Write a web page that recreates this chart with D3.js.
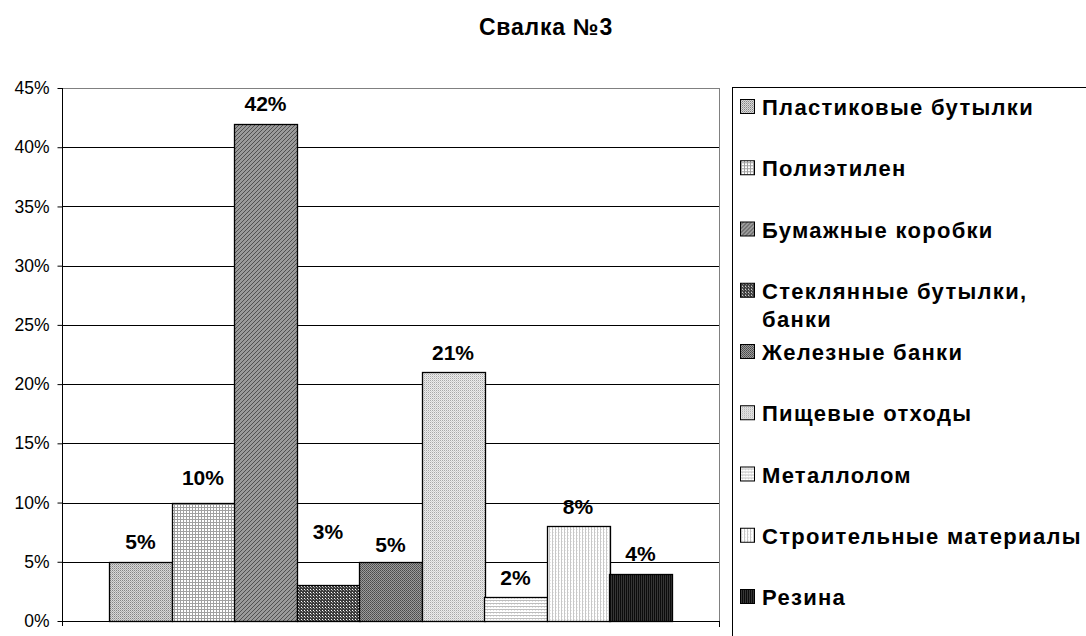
<!DOCTYPE html>
<html>
<head>
<meta charset="utf-8">
<script src="https://cdn.jsdelivr.net/npm/d3@7"></script>
<style>
  html, body { margin: 0; padding: 0; background: #fff; }
  svg { display: block; font-family: "Liberation Sans", Arial, sans-serif; }
</style>
</head>
<body>
<div id="chart"></div>
<script>
// data
const title = 'Свалка №3';
const categories = [
    'Пластиковые бутылки',
    'Полиэтилен',
    'Бумажные коробки',
    'Стеклянные бутылки, банки',
    'Железные банки',
    'Пищевые отходы',
    'Металлолом',
    'Строительные материалы',
    'Резина'
];
const values = [5, 10, 42, 3, 5, 21, 2, 8, 4];
const yTicks = [0, 5, 10, 15, 20, 25, 30, 35, 40, 45];

const width = 1086, height = 636;
const margin = { top: 88, right: 367, bottom: 15, left: 62 };
const plotRight = width - margin.right;   // 719
const plotBottom = height - margin.bottom; // 621

const svg = d3.select('#chart')
    .append('svg')
    .attr('width', width)
    .attr('height', height);

// fill patterns, one per series (Excel-like hatches)
const defs = svg.append('defs');
function tile(id, size, bg, marks) {
    const p = defs.append('pattern')
        .attr('id', id)
        .attr('patternUnits', 'userSpaceOnUse')
        .attr('width', size)
        .attr('height', size);
    p.append('rect').attr('width', size).attr('height', size).attr('fill', bg);
    marks.forEach(m => {
        p.append('rect').attr('x', m.x).attr('y', m.y).attr('width', m.w || 1).attr('height', m.h || 1).attr('fill', m.c);
    });
    return 'url(#' + id + ')';
}
const fills = [
    tile('p0', 2, '#d8d8d8', [{ x: 0, y: 0, c: '#848484' }, { x: 1, y: 1, c: '#acacac' }]),
    tile('p1', 3, '#ffffff', [{ x: 0, y: 0, w: 3, h: 1, c: '#a0a0a0' }, { x: 0, y: 0, w: 1, h: 3, c: '#a0a0a0' }]),
    tile('p2', 4, '#9a9a9a', [{ x: 0, y: 3, c: '#505050' }, { x: 1, y: 2, c: '#505050' }, { x: 2, y: 1, c: '#505050' }, { x: 3, y: 0, c: '#505050' }]),
    tile('p3', 3, '#3c3c3c', [{ x: 1, y: 1, c: '#ffffff' }, { x: 2, y: 2, c: '#9a9a9a' }]),
    tile('p4', 2, '#9c9c9c', [{ x: 0, y: 0, c: '#4a4a4a' }, { x: 1, y: 1, c: '#5a5a5a' }]),
    tile('p5', 2, '#ececec', [{ x: 0, y: 0, c: '#a8a8a8' }, { x: 1, y: 1, c: '#d0d0d0' }]),
    tile('p6', 3, '#ffffff', [{ x: 0, y: 0, w: 3, h: 1, c: '#bdbdbd' }, { x: 1, y: 1, w: 1, h: 1, c: '#e0e0e0' }]),
    tile('p7', 3, '#ffffff', [{ x: 0, y: 0, w: 1, h: 3, c: '#c8c8c8' }, { x: 1, y: 1, w: 1, h: 1, c: '#e4e4e4' }]),
    tile('p8', 2, '#0c0c0c', [{ x: 1, y: 0, w: 1, h: 2, c: '#363636' }])
];

const x = d3.scaleBand()
    .domain(categories)
    .range([margin.left, plotRight])
    .paddingInner(0)
    .paddingOuter(0.755);

const y = d3.scaleLinear()
    .domain([0, 45])
    .range([plotBottom, margin.top]);

// title
svg.append('text')
    .attr('x', 546)
    .attr('y', 27)
    .attr('text-anchor', 'middle')
    .attr('dominant-baseline', 'central')
    .style('font-size', '23px')
    .style('font-weight', 'bold')
    .style('letter-spacing', '0.8px')
    .text(title);

// gridlines
svg.append('g')
    .selectAll('line')
    .data(yTicks.filter(d => d > 0))
    .join('line')
    .attr('x1', margin.left)
    .attr('x2', plotRight)
    .attr('y1', d => Math.round(y(d)) + 0.5)
    .attr('y2', d => Math.round(y(d)) + 0.5)
    .attr('stroke', d => d === 45 ? '#808080' : '#000')
    .attr('stroke-width', 1);

// right edge of plot area
svg.append('line')
    .attr('x1', plotRight + 0.5).attr('x2', plotRight + 0.5)
    .attr('y1', Math.round(y(45))).attr('y2', plotBottom)
    .attr('stroke', '#808080');

// bars
svg.append('g')
    .selectAll('rect')
    .data(values)
    .join('rect')
    .attr('x', (d, i) => Math.round(x(categories[i])) + 0.5)
    .attr('y', d => Math.round(y(d)) + 0.5)
    .attr('width', Math.round(x.bandwidth()))
    .attr('height', d => Math.round(y(0)) - Math.round(y(d)))
    .attr('fill', (d, i) => fills[i])
    .attr('stroke', '#000')
    .attr('stroke-width', 1.3);

// y axis
const yAxis = svg.append('g')
    .attr('transform', 'translate(' + (margin.left + 0.5) + ',0)')
    .call(d3.axisLeft(y).tickValues(yTicks).tickFormat(d => d + '%').tickSize(5).tickPadding(8));
yAxis.select('.domain').attr('d', 'M-0,' + margin.top + 'V' + (plotBottom + 5)).attr('stroke', '#000');
yAxis.selectAll('.tick line').attr('stroke', '#000');
yAxis.selectAll('.tick text')
    .style('font-size', '17.5px')
    .style('font-family', '"Liberation Sans", Arial, sans-serif')
    .attr('fill', '#000');

// category axis (no labels, just the baseline and end tick)
svg.append('path')
    .attr('d', 'M' + margin.left + ',' + (plotBottom + 0.5) + 'H' + (plotRight + 0.5)
        + 'M' + (plotRight + 0.5) + ',' + plotBottom + 'V' + (plotBottom + 6))
    .attr('stroke', '#000')
    .attr('fill', 'none');

// value labels; a few were dragged by hand in the original
const labelLift = { 3: 54, 1: 25, 4: 17 };
svg.append('g')
    .selectAll('text')
    .data(values)
    .join('text')
    .attr('x', (d, i) => x(categories[i]) + x.bandwidth() / 2)
    .attr('y', (d, i) => y(d) - (labelLift[i] || 20))
    .attr('text-anchor', 'middle')
    .attr('dominant-baseline', 'central')
    .style('font-size', '21px')
    .style('font-weight', 'bold')
    .text(d => d + '%');

// legend
const legend = svg.append('g');
legend.append('rect')
    .attr('x', 732.5).attr('y', 87.5)
    .attr('width', 360).attr('height', 600)
    .attr('fill', '#fff').attr('stroke', '#000');

const maxTextWidth = 330;
const item = legend.selectAll('g.item')
    .data(categories)
    .join('g')
    .attr('class', 'item')
    .attr('transform', (d, i) => 'translate(0,' + (107 + i * 61.25) + ')');

item.append('rect')
    .attr('x', 740.5).attr('y', -7.5)
    .attr('width', 14).attr('height', 14)
    .attr('fill', (d, i) => fills[i])
    .attr('stroke', '#000');

item.append('text')
    .attr('x', 762)
    .attr('dominant-baseline', 'central')
    .style('font-size', '22px')
    .style('font-weight', 'bold')
    .style('letter-spacing', '1.3px')
    .each(function (d) {
        const t = d3.select(this);
        const words = d.split(' ');
        let line = [];
        let tspan = t.append('tspan').attr('x', 762).attr('dy', 0);
        words.forEach(w => {
            line.push(w);
            tspan.text(line.join(' '));
            if (tspan.node().getComputedTextLength() > maxTextWidth && line.length > 1) {
                line.pop();
                tspan.text(line.join(' '));
                line = [w];
                tspan = t.append('tspan').attr('x', 762).attr('dy', 28).text(w);
            }
        });
    });
</script>
</body>
</html>
